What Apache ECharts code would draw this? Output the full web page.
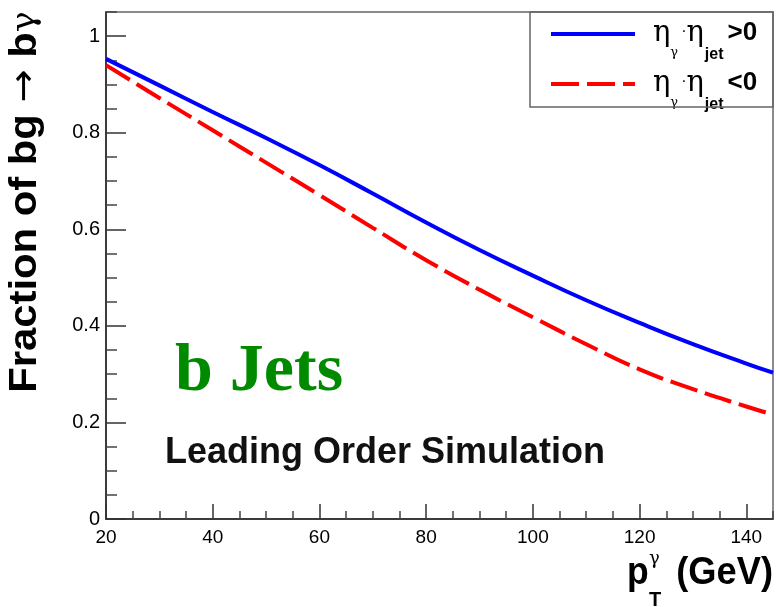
<!DOCTYPE html>
<html>
<head>
<meta charset="utf-8">
<script src="https://cdn.jsdelivr.net/npm/echarts@6/dist/echarts.min.js"></script>
<style>
  html, body { margin: 0; padding: 0; background: #fff; }
  #chart { width: 776px; height: 607px; }
</style>
</head>
<body>
<div id="chart"></div>
<script>
// photon pT (GeV)
const ptValues = [20, 30, 40, 50, 60, 70, 80, 90, 100, 110, 120, 130, 140, 145];
// fraction of bg -> b gamma, same-side and opposite-side
const fracSameSide = [0.953, 0.898, 0.843, 0.789, 0.733, 0.674, 0.614, 0.557, 0.504, 0.453, 0.406, 0.362, 0.322, 0.303];
const fracOppSide = [0.940, 0.872, 0.805, 0.738, 0.671, 0.603, 0.536, 0.475, 0.418, 0.362, 0.310, 0.269, 0.233, 0.216];

const seriesNames = ['ηγ·ηjet>0', 'ηγ·ηjet<0'];

const xMajorTicks = [20, 40, 60, 80, 100, 120, 140];
const xMinorTicks = [25, 30, 35, 45, 50, 55, 65, 70, 75, 85, 90, 95, 105, 110, 115, 125, 130, 135, 145];
const yMajorTicks = [0, 0.2, 0.4, 0.6, 0.8, 1];
const yMinorTicks = [0.05, 0.1, 0.15, 0.25, 0.3, 0.35, 0.45, 0.5, 0.55, 0.65, 0.7, 0.75, 0.85, 0.9, 0.95, 1.05];

const chart = echarts.init(document.getElementById('chart'));

const toPoints = (ys) => ptValues.map((x, i) => [x, ys[i]]);

const legendRich = {
  eta: { fontFamily: 'DejaVu Serif', fontSize: 29, lineHeight: 30, verticalAlign: 'top', color: '#000' },
  sub: { fontFamily: 'DejaVu Serif', fontSize: 13, lineHeight: 16, padding: [27, 0, 0, 0], verticalAlign: 'top', color: '#000' },
  dot: { fontFamily: 'Liberation Sans', fontSize: 16, lineHeight: 30, verticalAlign: 'top', color: '#000', padding: [5, 0, 0, 3] },
  jet: { fontFamily: 'Liberation Sans', fontWeight: 'bold', fontSize: 16, lineHeight: 16, padding: [28, 0, 0, 1], verticalAlign: 'top', color: '#000' },
  cmp: { fontFamily: 'Liberation Sans', fontWeight: 'bold', fontSize: 26, lineHeight: 30, verticalAlign: 'top', color: '#000', padding: [1, 0, 0, 4] }
};

const option = {
  backgroundColor: '#fff',
  animation: false,
  grid: {
    left: 106, right: 3, top: 12, bottom: 88,
    show: true, borderColor: '#666', borderWidth: 1.5, backgroundColor: 'transparent'
  },
  legend: {
    orient: 'vertical',
    left: 549,
    top: 19,
    padding: 0,
    itemGap: 6,
    itemWidth: 84,
    itemHeight: 14,
    selectedMode: false,
    data: seriesNames,
    itemStyle: { opacity: 0 },
    lineStyle: { width: 4 },
    textStyle: { padding: [0, 0, 0, 13], rich: legendRich },
    formatter: (name) => {
      const cmp = name.slice(-2);
      return '{eta|η}{sub|γ}{dot|·}{eta|η}{jet|jet}{cmp|' + cmp + '}';
    }
  },
  xAxis: [
    {
      type: 'value', min: 20, max: 145, position: 'bottom',
      axisLine: { show: true, onZero: false, lineStyle: { color: '#222', width: 1.5 } },
      axisTick: { show: true, inside: true, length: 15, customValues: xMajorTicks, lineStyle: { color: '#333', width: 1.5 } },
      axisLabel: { customValues: xMajorTicks, margin: 9, color: '#000', fontFamily: 'Liberation Sans', fontSize: 19 },
      splitLine: { show: false }
    },
    {
      type: 'value', min: 20, max: 145, position: 'bottom',
      axisLine: { show: false },
      axisTick: { show: true, inside: true, length: 8, customValues: xMinorTicks, lineStyle: { color: '#444', width: 1.5 } },
      axisLabel: { show: false },
      splitLine: { show: false }
    }
  ],
  yAxis: [
    {
      type: 'value', min: 0, max: 1.05, position: 'left',
      axisLine: { show: true, onZero: false, lineStyle: { color: '#222', width: 1.5 } },
      axisTick: { show: true, inside: true, length: 20, customValues: yMajorTicks, lineStyle: { color: '#333', width: 1.5 } },
      axisLabel: { customValues: yMajorTicks, margin: 6, color: '#000', fontFamily: 'Liberation Sans', fontSize: 20 },
      splitLine: { show: false }
    },
    {
      type: 'value', min: 0, max: 1.05, position: 'left',
      axisLine: { show: false },
      axisTick: { show: true, inside: true, length: 11, customValues: yMinorTicks, lineStyle: { color: '#444', width: 1.5 } },
      axisLabel: { show: false },
      splitLine: { show: false }
    }
  ],
  series: [
    {
      name: seriesNames[0], type: 'line', smooth: true, symbol: 'none',
      xAxisIndex: 0, yAxisIndex: 0,
      lineStyle: { color: '#0000ff', width: 4 },
      itemStyle: { color: '#0000ff' },
      data: toPoints(fracSameSide)
    },
    {
      name: seriesNames[1], type: 'line', smooth: true, symbol: 'none',
      xAxisIndex: 0, yAxisIndex: 0,
      lineStyle: { color: '#ff0000', width: 4, type: [28, 8] },
      itemStyle: { color: '#ff0000' },
      data: toPoints(fracOppSide)
    }
  ],
  graphic: [
    {
      type: 'rect', z: 5,
      shape: { x: 530, y: 12, width: 243, height: 95 },
      style: { fill: 'none', stroke: '#666', lineWidth: 1.5 }
    },
    {
      type: 'text', x: 26, y: 202, rotation: Math.PI / 2, scaleX: 1.1,
      style: {
        text: '{b|Fraction of bg }{a|→}{b| b}{g|γ}',
        align: 'center', verticalAlign: 'middle',
        rich: {
          b: { fontFamily: 'Liberation Sans', fontWeight: 'bold', fontSize: 38, fill: '#000' },
          a: { fontFamily: 'DejaVu Sans', fontWeight: 'normal', fontSize: 36, fill: '#000' },
          g: { fontFamily: 'DejaVu Serif', fontWeight: 'normal', fontSize: 32, fill: '#000' }
        }
      }
    },
    {
      type: 'text', x: 627, y: 573, scaleX: 0.91,
      style: { text: 'p', font: 'bold 39px "Liberation Sans"', fill: '#000', align: 'left', verticalAlign: 'middle' }
    },
    {
      type: 'text', x: 649, y: 559,
      style: { text: 'γ', font: '18px "DejaVu Serif"', fill: '#000', align: 'left', verticalAlign: 'middle' }
    },
    {
      type: 'text', x: 649, y: 600,
      style: { text: 'T', font: 'bold 20px "Liberation Sans"', fill: '#000', align: 'left', verticalAlign: 'middle' }
    },
    {
      type: 'text', x: 773, y: 573, scaleX: 0.93,
      style: { text: '(GeV)', font: 'bold 39px "Liberation Sans"', fill: '#000', align: 'right', verticalAlign: 'middle' }
    },
    {
      type: 'text', x: 175, y: 372,
      style: { text: 'b Jets', font: 'bold 68px "Liberation Serif"', fill: '#008a00', align: 'left', verticalAlign: 'middle' }
    },
    {
      type: 'text', x: 165, y: 453,
      style: { text: 'Leading Order Simulation', font: 'bold 36px "Liberation Sans"', fill: '#111', align: 'left', verticalAlign: 'middle' }
    }
  ]
};

chart.setOption(option);
</script>
</body>
</html>
